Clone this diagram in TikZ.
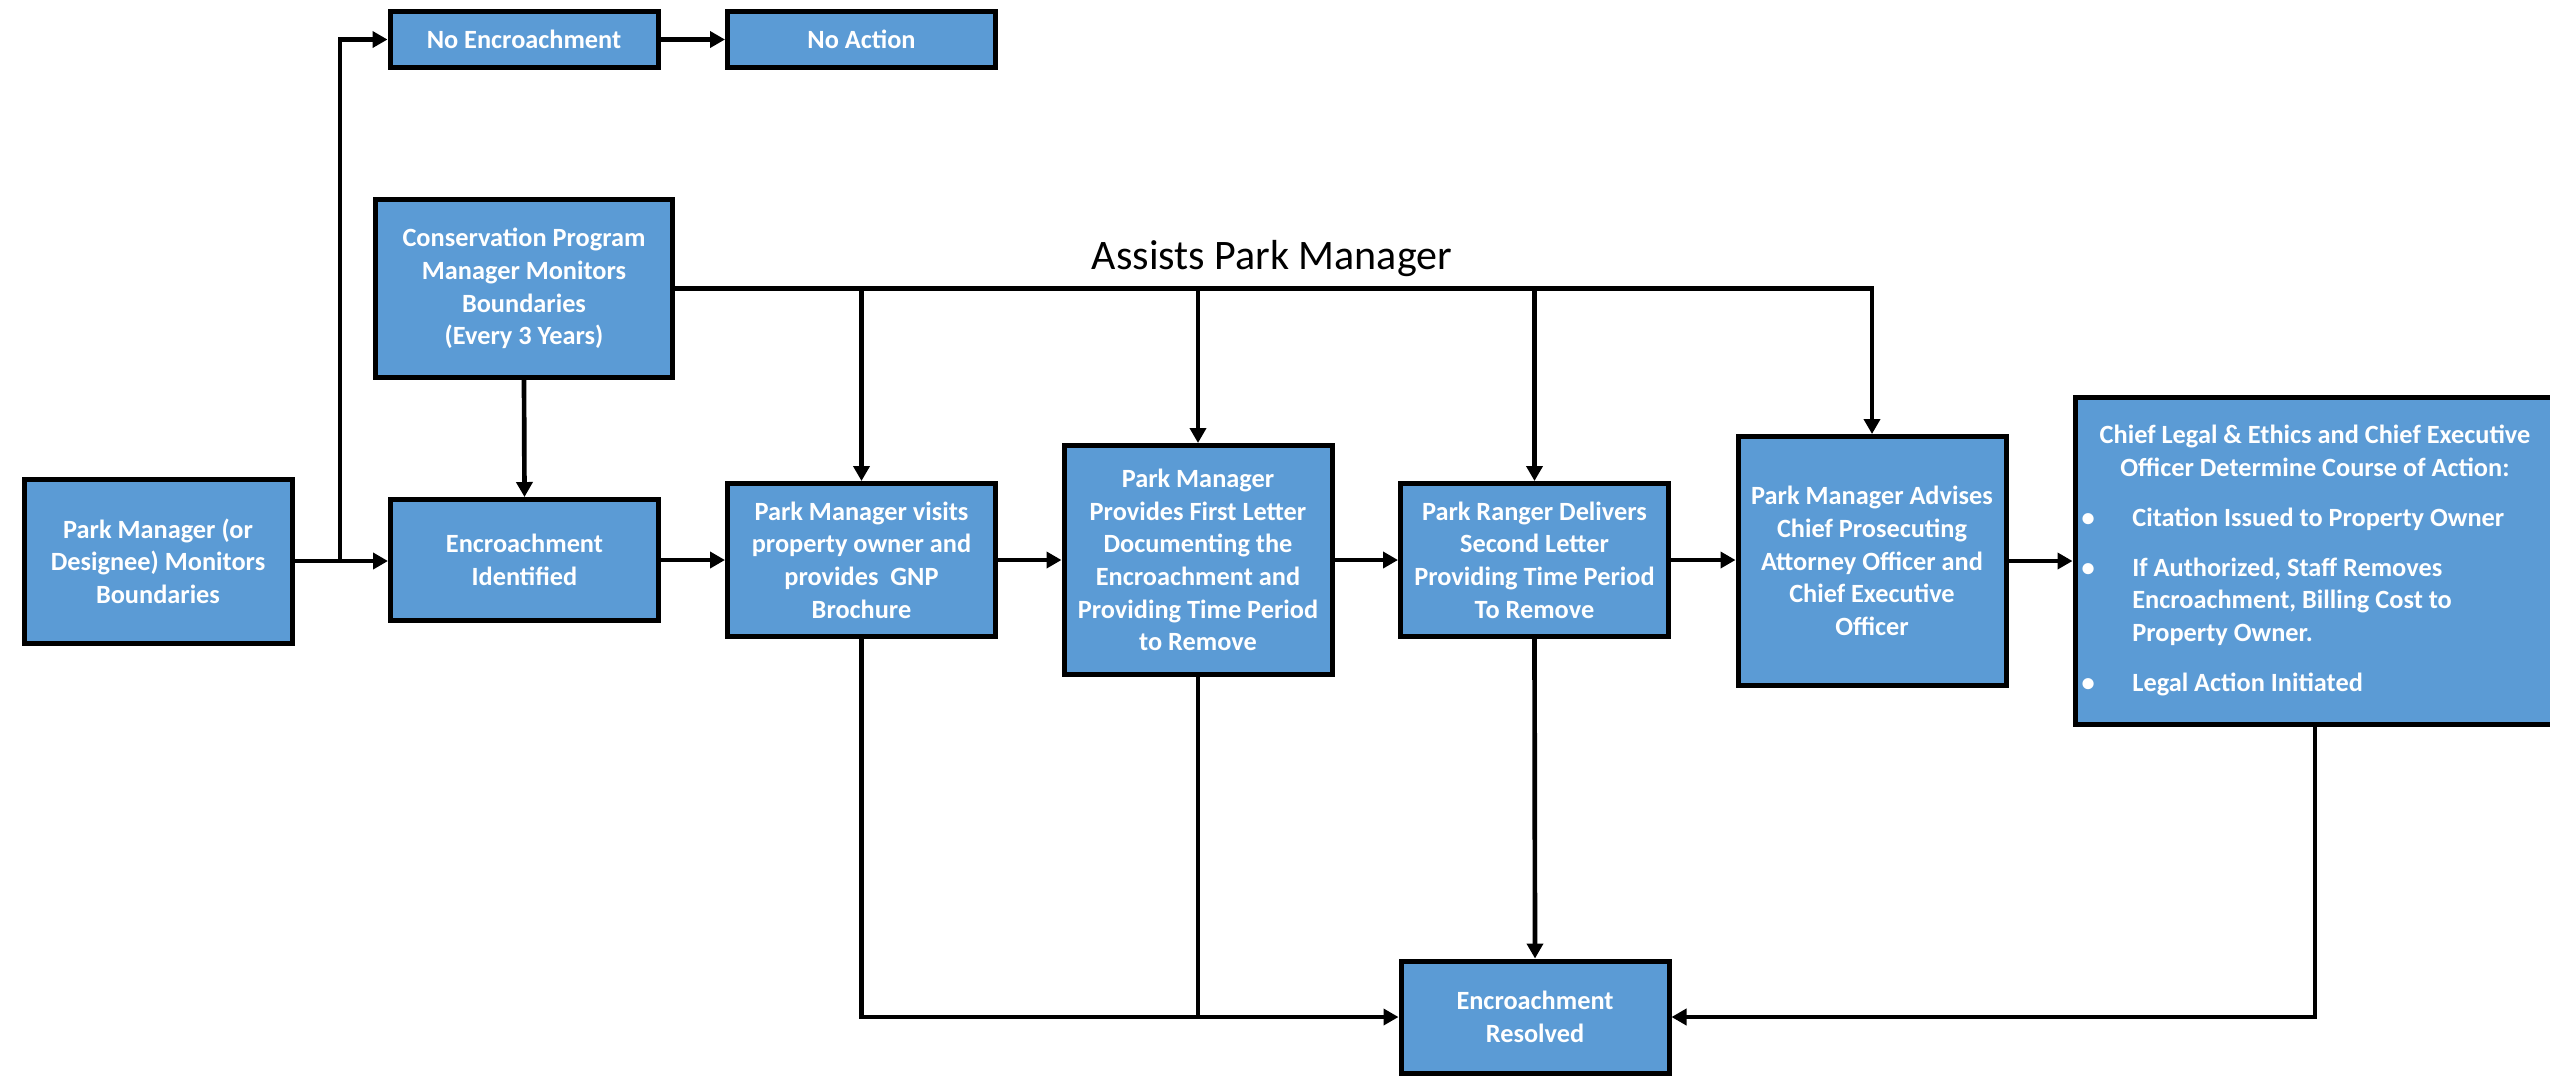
\documentclass[tikz,border=0pt]{standalone}
\usepackage{fontspec}
\setmainfont{Carlito}
\usetikzlibrary{arrows.meta}
\definecolor{boxblue}{HTML}{5B9BD5}
\newcommand{\bul}{\makebox[9.8pt][l]{\hspace*{-5.4pt}\textbullet}}
\begin{document}
\begin{tikzpicture}[x=0.3pt,y=-0.3pt,
  box/.style={draw=black,line width=1.5pt,fill=boxblue,text=white,
    font=\bfseries\fontsize{7.9}{9.8}\selectfont,align=center,
    inner sep=0pt,minimum width=80.4pt},
  conn/.style={line width=1.4pt,draw=black},
  arr/.style={conn,-{Triangle[length=4.5pt,width=4.8pt]}}]
\useasboundingbox (0,0) rectangle (2550,1076);

\node[box,minimum height=16.8pt] (noenc) at (524,39.5) {No Encroachment};
\node[box,minimum height=16.8pt] (noact) at (861.5,39.5) {No Action};
\node[box,minimum width=89pt,minimum height=53.4pt] (cons) at (524,288.5)
  {Conservation Program\\Manager Monitors\\Boundaries\\(Every 3 Years)};
\node[box,minimum height=49.2pt] (pm) at (158,561) {Park Manager (or\\Designee) Monitors\\Boundaries};
\node[box,minimum height=36.3pt] (encid) at (524.5,560) {Encroachment\\Identified};
\node[box,minimum height=45.9pt] (visit) at (861.5,560) {Park Manager visits\\property owner and\\provides\ \ GNP\\Brochure};
\node[box,minimum height=68.7pt] (first) at (1198,560) {Park Manager\\Provides First Letter\\Documenting the\\Encroachment and\\Providing Time Period\\to Remove};
\node[box,minimum height=45.9pt] (ranger) at (1534.5,560) {Park Ranger Delivers\\Second Letter\\Providing Time Period\\To Remove};
\node[box,minimum height=74.7pt] (adv) at (1872,561) {Park Manager Advises\\Chief Prosecuting\\Attorney Officer and\\Chief Executive\\Officer};
\node[box,minimum width=144pt,minimum height=98.1pt] (chief) at (2315,561)
  {\begin{tabular}{@{}l@{}l@{}}
   \multicolumn{2}{@{}c@{}}{Chief Legal \& Ethics and Chief Executive}\\
   \multicolumn{2}{@{}c@{}}{Officer Determine Course of Action:}\\[5.2pt]
   \bul & Citation Issued to Property Owner\\[5.2pt]
   \bul & If Authorized, Staff Removes\\
   & Encroachment, Billing Cost to\\
   & Property Owner.\\[5.2pt]
   \bul & Legal Action Initiated
   \end{tabular}};
\node[box,minimum height=33.6pt] (res) at (1535,1017) {Encroachment\\Resolved};

\node[font=\fontsize{12.6}{15}\selectfont,inner sep=0pt] (assist) at (1272,259) {Assists Park Manager};

% left branch
\coordinate (br) at (340,561);
\draw[arr] (pm.east) -- (encid.west |- pm.east);
\draw[arr] (br) |- (noenc.west);
\draw[arr] (noenc.east) -- (noact.west);
\draw[arr] (cons.south) -- (encid.north);

% assists line
\draw[arr] (cons.east) -| (adv.north);
\draw[arr] (visit.north |- cons.east) -- (visit.north);
\draw[arr] (first.north |- cons.east) -- (first.north);
\draw[arr] (ranger.north |- cons.east) -- (ranger.north);

% main flow
\draw[arr] (encid.east) -- (visit.west |- encid.east);
\draw[arr] (visit.east) -- (first.west |- visit.east);
\draw[arr] (first.east) -- (ranger.west |- first.east);
\draw[arr] (ranger.east) -- (adv.west |- ranger.east);
\draw[arr] (adv.east) -- (chief.west |- adv.east);

% to resolved
\draw[arr] (visit.south) |- (res.west);
\draw[conn] (first.south) -- (first.south |- res.west);
\draw[arr] (ranger.south) -- (res.north);
\draw[arr] (chief.south) |- (res.east);
\end{tikzpicture}
\end{document}
